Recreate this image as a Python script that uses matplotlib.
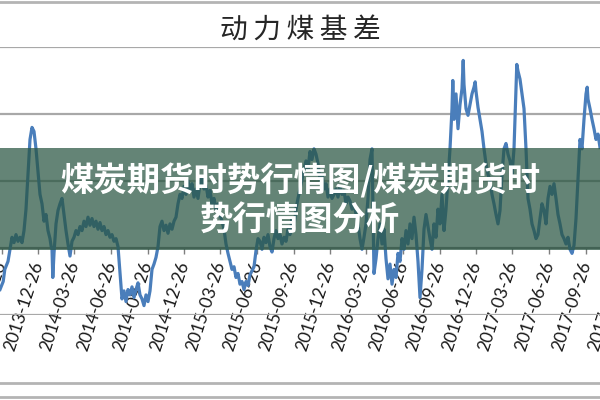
import pandas as pd
import matplotlib
matplotlib.use('Agg')
import matplotlib.pyplot as plt
from matplotlib.lines import Line2D
from matplotlib.patches import Rectangle

plt.rcParams['font.family'] = ['Noto Sans CJK SC', 'DejaVu Sans']

# days counted from START, basis values
START = '2013-09-22'
day_offset = [
    0, 8, 12, 20, 25, 30, 35, 40, 45, 50,
    55, 60, 65, 70, 75, 80, 85, 90, 95, 100,
    105, 110, 115, 120, 125, 128, 130, 132, 135, 140,
    145, 150, 155, 160, 165, 170, 175, 180, 185, 190,
    195, 200, 205, 210, 215, 220, 225, 230, 235, 240,
    245, 250, 255, 260, 265, 270, 275, 280, 285, 290,
    295, 300, 305, 310, 315, 320, 325, 330, 335, 340,
    345, 350, 355, 360, 365, 370, 375, 380, 385, 390,
    395, 400, 405, 410, 415, 420, 425, 430, 435, 440,
    445, 450, 455, 460, 465, 470, 475, 480, 485, 490,
    495, 500, 505, 510, 515, 520, 525, 530, 535, 540,
    545, 550, 555, 560, 565, 570, 575, 580, 585, 590,
    595, 600, 605, 610, 615, 620, 625, 630, 635, 640,
    645, 650, 655, 660, 665, 670, 675, 680, 685, 690,
    695, 700, 705, 710, 715, 720, 725, 730, 735, 740,
    745, 750, 755, 760, 765, 770, 775, 780, 785, 790,
    795, 800, 805, 810, 815, 820, 825, 830, 835, 840,
    845, 850, 855, 860, 865, 870, 875, 880, 885, 890,
    895, 900, 905, 910, 915, 920, 925, 930, 932, 935,
    940, 945, 950, 955, 960, 965, 970, 975, 980, 985,
    990, 995, 1000, 1005, 1010, 1015, 1020, 1025, 1030, 1035,
    1040, 1045, 1050, 1055, 1060, 1065, 1070, 1075, 1080, 1085,
    1090, 1095, 1100, 1105, 1110, 1115, 1120, 1125, 1130, 1132,
    1135, 1140, 1145, 1150, 1155, 1158, 1160, 1165, 1170, 1175,
    1180, 1185, 1188, 1190, 1195, 1200, 1205, 1210, 1215, 1220,
    1225, 1230, 1235, 1240, 1245, 1250, 1255, 1260, 1265, 1270,
    1275, 1280, 1285, 1290, 1292, 1295, 1300, 1305, 1310, 1315,
    1320, 1325, 1330, 1335, 1340, 1345, 1350, 1355, 1360, 1365,
    1370, 1375, 1380, 1385, 1390, 1395, 1400, 1405, 1410, 1415,
    1420, 1425, 1430, 1435, 1440, 1445, 1450, 1455, 1460, 1465,
    1468, 1470, 1475, 1480, 1485, 1490, 1495, 1500,
]
basis = [
    -31, -25, -16, -10, -1, 8, 4, 10, 5, 8,
    4, 13, 29, 55, 81, 90, 87, 74, 57, 40,
    33, 20, 25, 13, 7, 1, -1, -22, -4, 18,
    28, 33, 37, 25, 13, 3, -6, 5, 8, 13,
    10, 16, 13, 20, 16, 23, 17, 22, 16, 20,
    14, 19, 13, 16, 10, 13, 8, 10, 5, 7,
    1, -19, -38, -32, -40, -31, -35, -29, -37, -31,
    -26, -35, -38, -43, -35, -40, -32, -16, -12, -7,
    1, 16, 20, 13, 17, 11, 18, 14, 20, 23,
    33, 40, 37, 46, 40, 50, 43, 48, 38, 44,
    37, 48, 53, 44, 47, 38, 43, 33, 37, 29,
    33, 25, 20, 14, 3, -4, -10, -16, -14, -22,
    -19, -27, -25, -31, -25, -28, -20, -17, -14, -2,
    7, 5, -1, 8, 4, 10, 1, -3, 7, 13,
    7, 10, 3, 8, 5, 14, 10, 22, 16, 29,
    37, 44, 51, 59, 65, 59, 72, 66, 74, 70,
    63, 51, 55, 44, 48, 38, 44, 37, 40, 44,
    38, 46, 40, 43, 33, 38, 35, 29, 33, 25,
    18, 7, -1, 8, 18, 37, 66, 74, 37, -19,
    -8, 7, 18, 3, 14, -8, -23, -12, -27, -16,
    -22, -4, -10, 7, -1, 13, 3, 18, 7, 23,
    10, -10, -37, -16, 14, 25, 16, 7, -1, 18,
    8, 29, 18, 40, 13, 29, 51, 74, 104, 125,
    96, 115, 89, 107, 119, 140, 122, 104, 99, 107,
    115, 120, 124, 117, 105, 96, 87, 74, 63, 55,
    50, 40, 33, 25, 18, 28, 55, 74, 78, 70,
    65, 55, 74, 119, 137, 132, 126, 115, 104, 74,
    37, 29, 18, 13, 7, 10, 22, 33, 28, 18,
    37, 46, 40, 48, 37, 25, 18, 10, 7, 3,
    8, -1, -4, 2, 22, 51, 81, 74, 96, 115,
    120, 111, 104, 96, 89, 81, 85, 75,
]
tick_labels = [
    '2013-09-26', '2013-12-26', '2014-03-26', '2014-06-26', '2014-09-26',
    '2014-12-26', '2015-03-26', '2015-06-26', '2015-09-26', '2015-12-26',
    '2016-03-26', '2016-06-26', '2016-09-26', '2016-12-26', '2017-03-26',
    '2017-06-26', '2017-09-26', '2017-12-26',
]
grid_values = [-50, 0, 50, 100, 150]

title = '动力煤基差'
banner_lines = ['煤炭期货时势行情图/煤炭期货时', '势行情图分析']


def main():
    dates = pd.Timestamp(START) + pd.to_timedelta(day_offset, unit='D')

    fig = plt.figure(figsize=(6, 4), dpi=100, facecolor='white')
    # axes runs a bit past the right edge so the cut-off last label shows
    ax = fig.add_axes([0, 0.2125, 640 / 600, 0.67])
    ax.plot(dates, basis, color='#4a7ebb', lw=2.3, zorder=3)

    ax.set_xlim(pd.Timestamp(START), pd.Timestamp(START) + pd.Timedelta(days=1600))
    ax.set_ylim(-50, 150)
    ax.set_yticks(grid_values)
    ax.yaxis.grid(True, color='#a8a8a8', lw=1.6)
    ax.set_axisbelow(True)
    ax.tick_params(axis='y', left=False, labelleft=False)
    for side in ['top', 'left', 'right']:
        ax.spines[side].set_visible(False)
    ax.spines['bottom'].set_position(('data', 0))
    ax.spines['bottom'].set_color('#7f7f7f')
    ax.spines['bottom'].set_linewidth(1.2)

    ax.set_xticks(pd.to_datetime(tick_labels))
    ax.set_xticklabels(tick_labels, rotation=72, ha='right', va='center',
                       rotation_mode='anchor', fontsize=12.5, family='Lato',
                       color='#1a1a1a')
    ax.tick_params(axis='x', direction='out', length=4, width=1,
                   color='#7f7f7f', pad=6)

    fig.text(0.5, 1 - 30 / 400, '\u2009'.join(title), ha='center', va='center',
             fontsize=20, color='#262626', family=['Noto Sans CJK SC', 'DejaVu Sans'])

    # frame lines of the screenshot
    for y in [398 / 400, 17 / 400, 3 / 400]:
        fig.add_artist(Line2D([0, 1], [y, y], transform=fig.transFigure,
                              color='#b4b4b4', lw=2))

    band = Rectangle((0, 150 / 400), 1, 102 / 400, transform=fig.transFigure,
                     facecolor=(40 / 255, 85 / 255, 65 / 255), alpha=0.72,
                     edgecolor='none', zorder=5)
    fig.add_artist(band)
    fig.text(0.5, 1 - 181 / 400, banner_lines[0], ha='center', va='center',
             fontsize=24, fontweight='bold', color='white', zorder=6)
    fig.text(0.5, 1 - 221 / 400, banner_lines[1], ha='center', va='center',
             fontsize=24, fontweight='bold', color='white', zorder=6)

    fig.savefig('out.png', dpi=100, facecolor='white')


if __name__ == '__main__':
    main()
